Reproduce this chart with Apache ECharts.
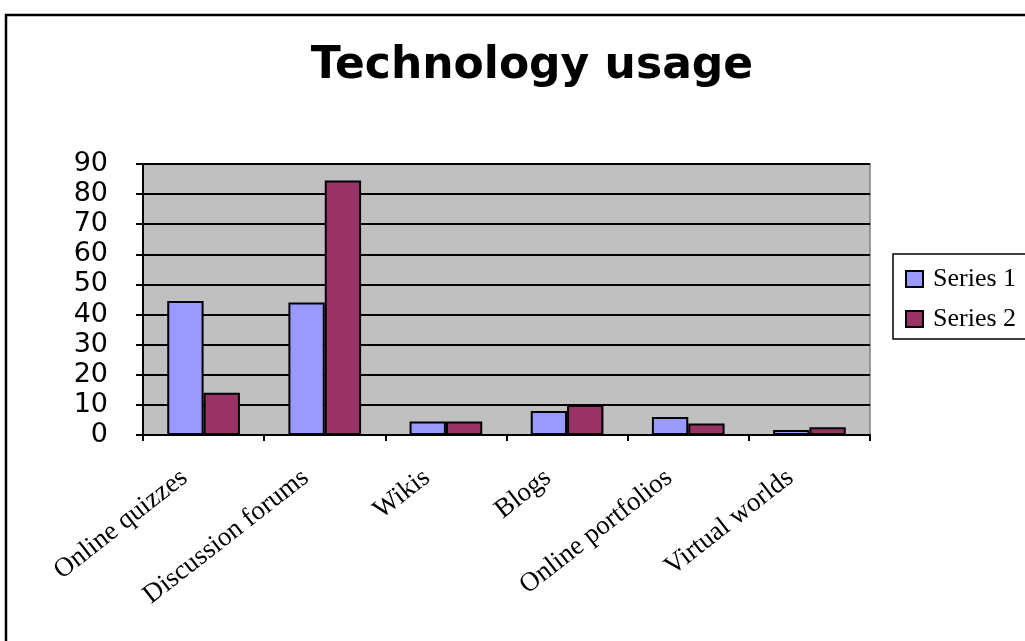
<!DOCTYPE html>
<html><head><meta charset="utf-8">
<script src="https://cdn.jsdelivr.net/npm/echarts@6/dist/echarts.min.js"></script>
<style>html,body{margin:0;padding:0;background:#fff}#c{width:1025px;height:641px}</style>
</head><body><div id="c"></div>
<script>
const categories = ["Online quizzes","Discussion forums","Wikis","Blogs","Online portfolios","Virtual worlds"];
const series1 = [44.5, 44, 4.5, 8, 6, 1.7];
const series2 = [14, 84.5, 4.5, 10, 3.8, 2.6];
const seriesNames = ["Series 1","Series 2"];
const titleText = "Technology usage";

const chart = echarts.init(document.getElementById('c'));
chart.setOption({
  animation: false,
  backgroundColor: '#fff',
  title: {
    text: titleText, left: 527, top: 40, textAlign: 'center',
    textStyle: {fontFamily: 'DejaVu Sans', fontWeight: 'bold', fontSize: 44, color: '#000'}
  },
  graphic: [{
    type: 'rect', shape: {x: 6, y: 15, width: 1040, height: 650},
    style: {fill: null, stroke: '#000', lineWidth: 2.5}, z: 100
  }],
  legend: {
    orient: 'vertical', left: 893, top: 254,
    padding: [12, 40, 7, 12], itemGap: 14,
    itemWidth: 17, itemHeight: 16,
    borderColor: '#000', borderWidth: 1.5,
    icon: 'rect',
    textStyle: {fontFamily: 'Liberation Serif, Times New Roman', fontSize: 26, color: '#000', lineHeight: 26, padding: [0, 0, 0, 5]}
  },
  grid: {left: 143, right: 155, top: 164, bottom: 206, show: true, backgroundColor: '#C0C0C0', borderColor: '#808080', borderWidth: 1.5},
  xAxis: {
    type: 'category', data: categories,
    axisLine: {lineStyle: {color: '#000', width: 2}},
    axisTick: {show: true, length: 6, lineStyle: {color: '#000', width: 2}},
    axisLabel: {rotate: 38, margin: 64, color: '#000', fontFamily: 'Liberation Serif, Times New Roman', fontSize: 27,
                verticalAlign: 'bottom', lineHeight: 62}
  },
  yAxis: {
    type: 'value', min: 0, max: 90, interval: 10,
    axisLine: {show: true, lineStyle: {color: '#000', width: 2}},
    axisTick: {show: true, length: 7, lineStyle: {color: '#000', width: 2}},
    axisLabel: {margin: 35, color: '#000', fontFamily: 'DejaVu Sans', fontSize: 27},
    splitLine: {lineStyle: {color: '#000', width: 2}}
  },
  series: [
    {name: seriesNames[0], type: 'bar', data: series1, barGap: '0%', barCategoryGap: '40%',
     itemStyle: {color: '#9999FF', borderColor: '#000', borderWidth: 2}},
    {name: seriesNames[1], type: 'bar', data: series2,
     itemStyle: {color: '#993366', borderColor: '#000', borderWidth: 2}}
  ]
});
</script></body></html>
